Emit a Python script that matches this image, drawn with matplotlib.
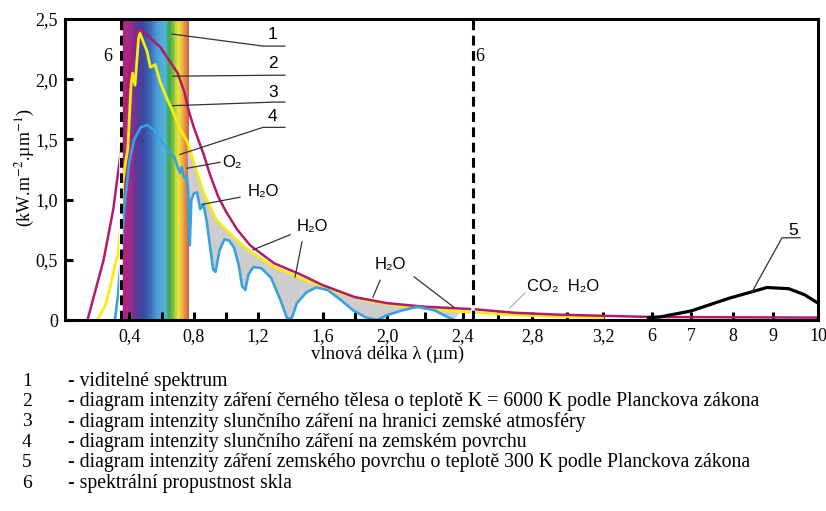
import numpy as np
import matplotlib
matplotlib.use("Agg")
import matplotlib.pyplot as plt
from matplotlib.colors import LinearSegmentedColormap

plt.rcParams['mathtext.fontset'] = 'stix'
SERIF = ['Liberation Serif', 'DejaVu Serif']
SANS = ['Liberation Sans', 'DejaVu Sans']

# --- data (wavelength in um, intensity in kW.m-2.um-1) ---
# 2 - black body 6000 K
bb6000_um = [0.14, 0.19, 0.24, 0.30, 0.34, 0.37, 0.40, 0.42, 0.45, 0.47, 0.50, 0.54,
             0.59, 0.64, 0.70, 0.74, 0.77, 0.80, 0.86, 0.90, 0.95, 1.00, 1.07, 1.15,
             1.30, 1.46, 1.60, 1.80, 2.00, 2.20, 2.46, 2.70, 2.94, 3.20, 6.00, 10.0]
bb6000_val = [0.0, 0.25, 0.50, 0.92, 1.33, 1.70, 2.05, 2.25, 2.39, 2.41, 2.38, 2.33,
              2.27, 2.17, 2.05, 1.90, 1.73, 1.60, 1.38, 1.21, 1.03, 0.90, 0.75, 0.62,
              0.47, 0.38, 0.29, 0.19, 0.14, 0.11, 0.09, 0.06, 0.045, 0.035, 0.025, 0.02]

# 3 - sun at the top of the atmosphere
sun_top_um = [0.20, 0.25, 0.28, 0.31, 0.33, 0.35, 0.36, 0.375, 0.39, 0.41, 0.42, 0.435,
              0.46, 0.51, 0.53, 0.56, 0.59, 0.63, 0.67, 0.71, 0.76, 0.80, 0.86, 0.94,
              1.07, 1.15, 1.30, 1.46, 1.65, 1.88, 2.10, 2.39, 2.60, 2.80, 3.20]
sun_top_val = [0.0, 0.12, 0.27, 0.45, 0.55, 0.85, 1.15, 1.30, 1.42, 1.95, 2.05, 1.95,
               2.40, 2.23, 2.10, 2.12, 1.98, 1.85, 1.73, 1.60, 1.48, 1.31, 1.06, 0.83,
               0.66, 0.57, 0.44, 0.35, 0.25, 0.16, 0.11, 0.07, 0.05, 0.035, 0.02]

# 4 - sun at the earth surface
sun_surf_um = [0.31, 0.33, 0.35, 0.37, 0.40, 0.43, 0.47, 0.51, 0.55, 0.60, 0.65, 0.68,
               0.70, 0.715, 0.725, 0.74, 0.755, 0.765, 0.775, 0.785, 0.80, 0.82, 0.84,
               0.86, 0.88, 0.90, 0.92, 0.935, 0.96, 0.99, 1.02, 1.05, 1.08, 1.10, 1.12,
               1.14, 1.17, 1.22, 1.28, 1.34, 1.38, 1.41, 1.44, 1.50, 1.56, 1.63, 1.71,
               1.79, 1.87, 1.94, 2.00, 2.08, 2.16, 2.25, 2.35]
sun_surf_val = [0.0, 0.22, 0.55, 0.95, 1.32, 1.50, 1.60, 1.62, 1.58, 1.48, 1.40, 1.35,
                1.27, 1.22, 1.27, 1.18, 1.20, 1.08, 0.62, 1.00, 1.05, 1.06, 0.92,
                0.96, 0.82, 0.62, 0.42, 0.40, 0.58, 0.67, 0.66, 0.60, 0.45, 0.28, 0.25,
                0.38, 0.44, 0.43, 0.35, 0.16, 0.01, 0.02, 0.14, 0.23, 0.27, 0.25, 0.17,
                0.08, 0.02, 0.0, 0.04, 0.08, 0.11, 0.08, 0.0]

# 5 - earth surface 300 K
bb300_um = [5.8, 6.2, 7.0, 7.9, 8.85, 9.35, 9.7, 10.0]
bb300_val = [0.02, 0.025, 0.075, 0.18, 0.27, 0.26, 0.21, 0.14]

visible_band = (0.35, 0.77)
glass_limits = [0.35, 2.46]

x_ticks = [0.4, 0.8, 1.2, 1.6, 2.0, 2.4, 2.8, 3.2, 6, 7, 8, 9, 10]
x_tick_labels = ['0,4', '0,8', '1,2', '1,6', '2,0', '2,4', '2,8', '3,2', '6', '7', '8', '9', '10']
x_minor = [0.6, 1.0, 1.4, 1.8, 2.2, 2.6, 3.0]
y_ticks = [0, 0.5, 1.0, 1.5, 2.0, 2.5]
y_tick_labels = ['0', '0,5', '1,0', '1,5', '2,0', '2,5']

legend_rows = [
    ('1', '- viditelné spektrum'),
    ('2', '- diagram intenzity záření černého tělesa o teplotě K = 6000 K podle Planckova zákona'),
    ('3', '- diagram intenzity slunčního záření na hranici zemské atmosféry'),
    ('4', '- diagram intenzity slunčního záření na zemském povrchu'),
    ('5', '- diagram intenzity záření zemského povrchu o teplotě 300 K podle Planckova zákona'),
    ('6', '- spektrální propustnost skla'),
]

# broken x axis: piecewise linear scale
knots_um = [-1.0, 0.0, 2.0, 2.4, 2.8, 3.2, 6.0, 7.0, 8.0, 9.0, 10.0, 11.0]
knots_px = [-96, 65, 387, 463, 532, 603, 652, 691, 733, 773, 818, 863]


def fwd(x):
    return np.interp(x, knots_um, knots_px)


def inv(x):
    return np.interp(x, knots_px, knots_um)


fig = plt.figure(figsize=(8.26, 5.11), dpi=100)
ax = fig.add_axes([65 / 826, (511 - 320) / 511, (818 - 65) / 826, (320 - 19) / 511])
ax.set_xscale('function', functions=(fwd, inv))
ax.set_xlim(0, 10)
ax.set_ylim(0, 2.5)

# visible spectrum band
spec_cmap = LinearSegmentedColormap.from_list('spec', [
    (0.00, '#b8207a'), (0.13, '#a02c8c'), (0.22, '#5b3896'), (0.32, '#3a48a0'),
    (0.43, '#3a6cb8'), (0.54, '#4aa0d8'), (0.65, '#55b5d5'), (0.71, '#3aa84a'),
    (0.78, '#8cc43c'), (0.84, '#eee840'), (0.91, '#f0b040'), (1.00, '#d0604a')])
bx = np.linspace(visible_band[0], visible_band[1], 121)
ax.pcolormesh(bx, [0, 2.5], np.linspace(0, 1, 120)[None, :], cmap=spec_cmap,
              shading='flat', zorder=1)

# absorbed part (grey) between curve 3 and curve 4
top_x = np.array(sun_top_um)
top_y = np.array(sun_top_val)
sel_t = (top_x >= 0.76) & (top_x <= 2.4)
sx = np.array(sun_surf_um)
sy = np.array(sun_surf_val)
sel_s = sx >= 0.775
ax.fill(np.concatenate([top_x[sel_t], sx[sel_s][::-1]]),
        np.concatenate([top_y[sel_t], sy[sel_s][::-1]]),
        color='#cdcdcd', lw=0, zorder=2)

ax.plot(bb6000_um, bb6000_val, color='#b3196c', lw=1.8, zorder=4)
ax.plot(sun_top_um, sun_top_val, color='#f5ee10', lw=2.0, zorder=3)
ax.plot(sun_surf_um, sun_surf_val, color='#38a2e0', lw=1.9, zorder=5)
ax.plot(bb300_um, bb300_val, color='black', lw=2.3, zorder=5)

for g in glass_limits:
    ax.axvline(g, color='white', lw=2.6, zorder=6)
    ax.axvline(g, color='black', lw=2.2, ls=(0, (3.2, 1.8)), zorder=7)

ax.text(0.267, 2.19, '6', family=SERIF, fontsize=13, ha='center', va='center')
ax.text(2.5, 2.19, '6', family=SERIF, fontsize=13, ha='center', va='center')

lead = dict(color='#333333', lw=0.9, zorder=8)
ax.plot([0.665, 1.23, 1.366], [2.375, 2.275, 2.275], **lead)
ax.plot([0.67, 1.30, 1.366], [2.025, 2.033, 2.033], **lead)
ax.plot([0.67, 1.30, 1.366], [1.78, 1.81, 1.81], **lead)
ax.plot([0.714, 1.23, 1.366], [1.375, 1.60, 1.60], **lead)
for lab, ty in zip(['1', '2', '3', '4'], [2.375, 2.13, 1.89, 1.69]):
    ax.text(1.29, ty, lab, family=SANS, fontsize=12.5, ha='center', va='center')

ax.plot([0.758, 0.963], [1.26, 1.31], **lead)
ax.text(1.04, 1.31, 'O₂', family=SANS, fontsize=12, ha='center', va='center')
ax.plot([0.851, 1.087], [0.96, 1.02], **lead)
ax.text(1.23, 1.07, 'H₂O', family=SANS, fontsize=12, ha='center', va='center')
ax.plot([1.168, 1.398], [0.583, 0.708], **lead)
ax.plot([1.429, 1.472], [0.358, 0.65], **lead)
ax.text(1.534, 0.775, 'H₂O', family=SANS, fontsize=12, ha='center', va='center')
ax.plot([1.913, 1.957], [0.19, 0.33], **lead)
ax.plot([2.143, 2.35], [0.358, 0.108], **lead)
ax.text(2.02, 0.46, 'H₂O', family=SANS, fontsize=12, ha='center', va='center')
ax.plot([2.672, 2.759], [0.1, 0.225], color='#aaaaaa', lw=0.8, zorder=8)
ax.text(2.975, 0.275, 'CO₂  H₂O', family=SANS, fontsize=12, ha='center', va='center')
ax.plot([8.475, 9.2, 9.6], [0.233, 0.683, 0.683], **lead)
ax.text(9.44, 0.74, '5', family=SANS, fontsize=12.5, ha='center', va='center')

# axes styling
for s in ax.spines.values():
    s.set_linewidth(2.2)
    s.set_zorder(10)
ax.set_xticks(x_ticks)
ax.set_xticklabels(x_tick_labels, family=SERIF, fontsize=13)
ax.set_xticks(x_minor, minor=True)
ax.set_yticks(y_ticks)
ax.set_yticklabels(y_tick_labels, family=SERIF, fontsize=13)
ax.tick_params(axis='both', which='both', direction='in', length=6, width=2.2)
ax.tick_params(axis='x', pad=6)
ax.tick_params(axis='y', pad=5)

fig.text(388 / 826, 1 - 354 / 511, 'vlnová délka λ (µm)', family=SERIF, fontsize=13.5,
         ha='center', va='center')
fig.text(25 / 826, 1 - 168 / 511, '(kW.m$^{-2}$.µm$^{-1}$)', family=SERIF, fontsize=13,
         rotation=90, ha='center', va='center')

for i, (num, txt) in enumerate(legend_rows):
    yy = 1 - (381 + i * 20.4) / 511
    fig.text(27 / 826, yy, num, family=SERIF, fontsize=14, ha='center', va='center')
    fig.text(68 / 826, yy, txt, family=SERIF, fontsize=14.2, ha='left', va='center')

fig.savefig('out.png', dpi=100)
